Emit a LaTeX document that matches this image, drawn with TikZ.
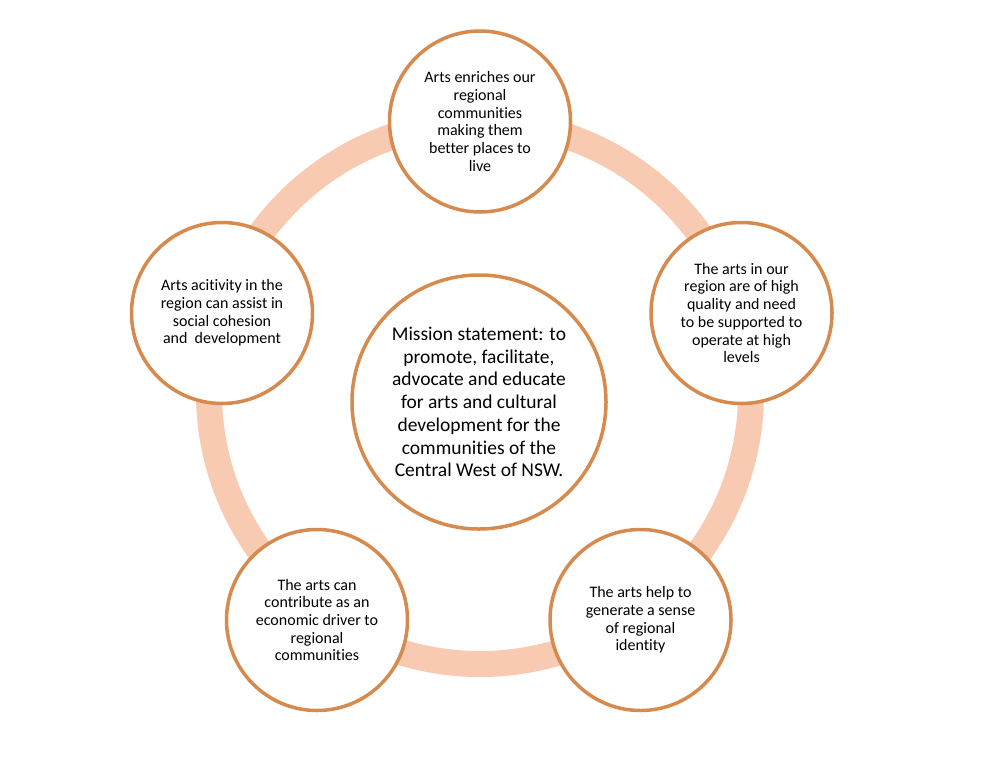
\documentclass[tikz,border=0pt]{standalone}
\usepackage{fontspec}
\setmainfont[Ligatures=NoCommon]{Carlito}
\definecolor{ringcol}{HTML}{F9CAB2}
\definecolor{edgecol}{HTML}{D68A4E}
\tikzset{
  ringline/.style={draw=ringcol, line width=26pt},
  idea/.style={circle, draw=edgecol, line width=3.5pt, fill=white, minimum size=181pt, inner sep=0pt, align=center, font=\fontsize{16}{17.7}\selectfont},
  mission/.style={circle, draw=edgecol, line width=3.5pt, fill=white, minimum size=254pt, inner sep=0pt, align=center, font=\fontsize{19.5}{22.7}\selectfont}
}
\begin{document}
\begin{tikzpicture}[x=1pt,y=-1pt]
\useasboundingbox (0,0) rectangle (1000,766);
\fill[white] (0,0) rectangle (1000,766);
\coordinate (hub) at (480,393);
\draw[ringline] (hub) circle[radius=271];
\node[mission] (mid) at (479,402) {Mission statement: to\\promote, facilitate,\\advocate and educate\\for arts and cultural\\development for the\\communities of the\\Central West of NSW.};
\node[idea] (top) at (480,121.5) {Arts enriches our\\regional\\communities\\making them\\better places to\\live};
\node[idea] (right) at (741.5,313) {The arts in our\\region are of high\\quality and need\\to be supported to\\operate at high\\levels};
\node[idea] (bright) at (640.5,620) {The arts help to\\generate a sense\\of regional\\identity};
\node[idea] (bleft) at (317,620) {The arts can\\contribute as an\\economic driver to\\regional\\communities};
\node[idea] (left) at (222,313) {Arts acitivity in the\\region can assist in\\social cohesion\\and\ \ development};
\end{tikzpicture}
\end{document}
